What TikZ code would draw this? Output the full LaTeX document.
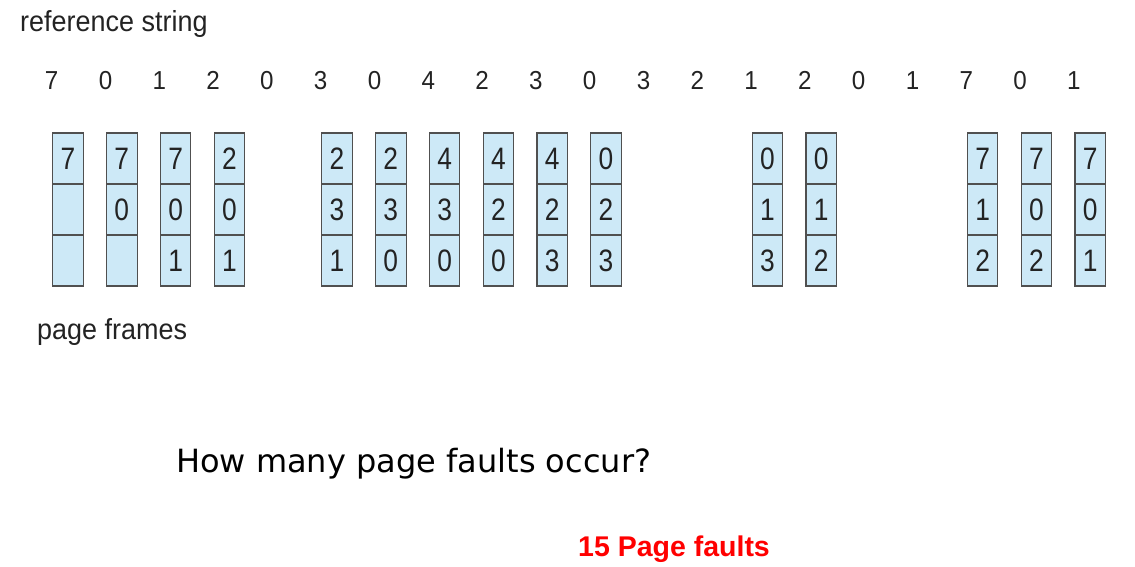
\documentclass[tikz,border=0pt]{standalone}
\usepackage{fontspec}
\setmainfont{Liberation Sans}
\newfontfamily\qfont{DejaVu Sans}
\newfontfamily\lblfont[FakeStretch=0.93]{Liberation Sans}
\newfontfamily\cellfont[FakeStretch=0.85]{Liberation Sans}
\usepackage{xcolor}
\usetikzlibrary{positioning}

\definecolor{cellblue}{RGB}{205,233,247}
\definecolor{celledge}{RGB}{80,80,80}
\definecolor{txtgray}{RGB}{35,35,35}

\begin{document}
\begin{tikzpicture}[
  x=1pt, y=-1pt,
  every node/.style={align=center},
  lbl/.style={anchor=base west, inner sep=0pt, font=\lblfont\fontsize{29}{32}\selectfont, text=txtgray},
  refnum/.style={anchor=base, inner sep=0pt, font=\lblfont\fontsize{26}{28}\selectfont, text=txtgray},
  cell/.style={rectangle, draw=celledge, line width=1.1pt, fill=cellblue, minimum width=30.5pt, minimum height=51pt, inner sep=0pt, outer sep=0pt, text height=22.2pt, text depth=0pt, font=\cellfont\fontsize{31}{34}\selectfont, text=txtgray}
]
  \useasboundingbox (0,0) rectangle (1135,567);

  \node[lbl] (refstr) at (20,32) {reference string};
  \node[lbl] (frames) at (37,339) {page frames};

  % reference string
  \foreach \d [count=\i from 0] in {7,0,1,2,0,3,0,4,2,3,0,3,2,1,2,0,1,7,0,1}
    \node[refnum] (r\i) at (51.7+53.8*\i, 90) {\d};

  % frame contents after each fault
  \foreach \i/\fa/\fb/\fc in {0/7/{}/{}, 1/7/0/{}, 2/7/0/1, 3/2/0/1, 5/2/3/1, 6/2/3/0,
      7/4/3/0, 8/4/2/0, 9/4/2/3, 10/0/2/3, 13/0/1/3, 14/0/1/2, 17/7/1/2, 18/7/0/2, 19/7/0/1}{
    \node[cell] (c\i a) at (68+53.8*\i, 158.5) {\fa};
    \node[cell, below=0pt of c\i a] (c\i b) {\fb};
    \node[cell, below=0pt of c\i b] (c\i c) {\fc};
  }

  \node[anchor=base west, inner sep=0pt, font=\qfont\fontsize{32}{36}\selectfont] (question) at (176,472) {How many page faults occur?};
  \node[anchor=base west, inner sep=0pt, font=\bfseries\fontsize{28.5}{32}\selectfont, text=red] (answer) at (578,556) {15 Page faults};
\end{tikzpicture}
\end{document}
